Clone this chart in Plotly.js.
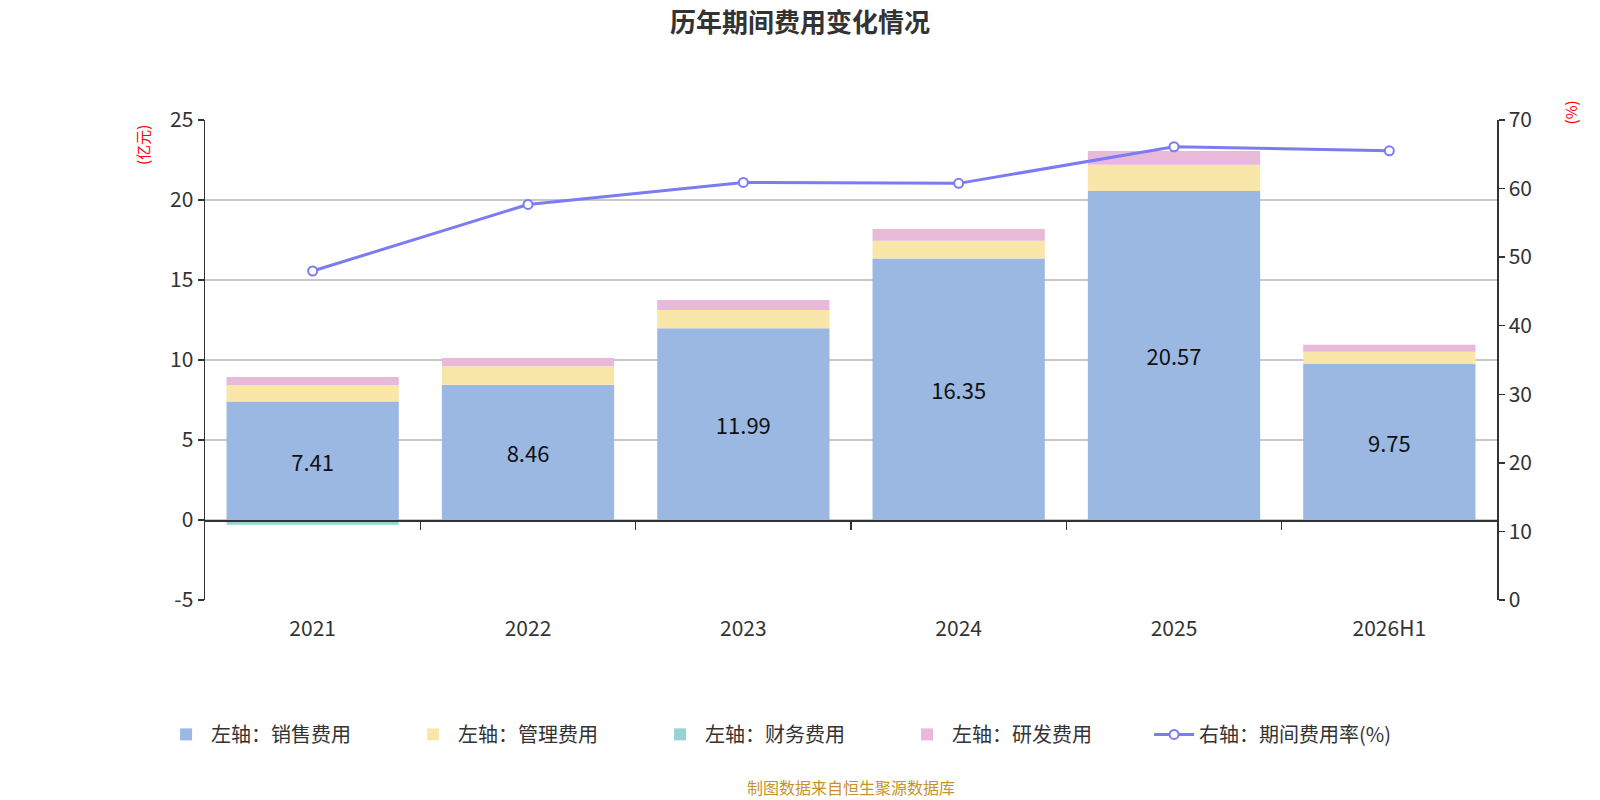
<!DOCTYPE html>
<html>
<head>
<meta charset="utf-8">
<script src="https://cdn.plot.ly/plotly-3.0.1.min.js"></script>
<style>html,body{margin:0;padding:0;background:#fff;}#chart{width:1600px;height:800px;}</style>
</head>
<body>
<div id="chart"></div>
<script>
var categories = ["2021", "2022", "2023", "2024", "2025", "2026H1"];
var salesExpense = [7.41, 8.46, 11.99, 16.35, 20.57, 9.75];
var adminExpense = [1.02, 1.15, 1.13, 1.10, 1.63, 0.77];
var financeExpense = [-0.30, -0.05, -0.06, -0.08, -0.12, -0.02];
var rdExpense = [0.50, 0.52, 0.63, 0.73, 0.86, 0.44];
var expenseRate = [47.98, 57.68, 60.90, 60.76, 66.10, 65.50];
var leftTicks = [-5, 0, 5, 10, 15, 20, 25];
var leftTickText = ["-5", "0", "5", "10", "15", "20", "25"];
var boundaryTicks = [0.5, 1.5, 2.5, 3.5, 4.5];

var font = "'Noto Sans CJK SC', 'Noto Sans', sans-serif";

var traces = [
  {type: 'bar', name: '左轴：销售费用', x: categories, y: salesExpense,
   marker: {color: '#9BB8E2'}, text: salesExpense.map(function(v){return v.toFixed(2);}),
   textposition: 'inside', insidetextanchor: 'middle', textangle: 0,
   textfont: {color: '#111', size: 22, family: font}, hoverinfo: 'y'},
  {type: 'bar', name: '左轴：管理费用', x: categories, y: adminExpense,
   marker: {color: '#F9E7A9'}, hoverinfo: 'y'},
  {type: 'bar', name: '左轴：财务费用', x: categories, y: financeExpense,
   marker: {color: '#97D3D3'}, hoverinfo: 'y'},
  {type: 'bar', name: '左轴：研发费用', x: categories, y: rdExpense,
   marker: {color: '#E8B9D8'}, hoverinfo: 'y'},
  {type: 'scatter', mode: 'lines+markers', name: '右轴：期间费用率(%)', x: categories, y: expenseRate,
   yaxis: 'y2', line: {color: '#7B7BF2', width: 3},
   marker: {symbol: 'circle', size: 9, color: '#ffffff', line: {color: '#7B7BF2', width: 2}}},
  {type: 'scatter', mode: 'lines', x: [0, 5], y: [0, 0], xaxis: 'x2', yaxis: 'y',
   showlegend: false, hoverinfo: 'skip', line: {color: 'rgba(0,0,0,0)', width: 0}}
];

var layout = {
  width: 1600, height: 800,
  paper_bgcolor: '#fff', plot_bgcolor: '#fff',
  margin: {l: 205, r: 103, t: 120, b: 200},
  font: {family: font, color: '#333'},
  barmode: 'relative', bargap: 0.2,
  title: {text: '<b>历年期间费用变化情况</b>', x: 0.5, xanchor: 'center', y: 0.972, yanchor: 'middle',
          font: {size: 26, color: '#333', family: font}},
  xaxis: {type: 'category', showline: false, ticks: '', showgrid: false, zeroline: false,
          tickfont: {size: 21, color: '#333'}, ticklabelstandoff: 14},
  xaxis2: {type: 'linear', overlaying: 'x', anchor: 'free', position: 1/6, range: [-0.5, 5.5],
           showline: true, linecolor: '#333', linewidth: 1.5, ticks: 'outside', ticklen: 8,
           tickcolor: '#333', tickwidth: 1.5, tickvals: boundaryTicks, showticklabels: false,
           showgrid: false, zeroline: false},
  yaxis: {range: [-5, 25], tickvals: leftTicks, ticktext: leftTickText, showline: true,
          linecolor: '#333', linewidth: 1.5,
          ticks: 'outside', ticklen: 6, tickcolor: '#333', tickwidth: 1.5,
          gridcolor: '#c8c8c8', gridwidth: 1.2, zeroline: false,
          tickfont: {size: 21, color: '#333'}},
  yaxis2: {overlaying: 'y', side: 'right', range: [0, 70], dtick: 10, showline: true,
           linecolor: '#333', linewidth: 1.5, ticks: 'outside', ticklen: 6, tickcolor: '#333',
           tickwidth: 1.5, showgrid: false, zeroline: false,
           tickfont: {size: 21, color: '#333'}},
  legend: {orientation: 'h', x: -0.034, xanchor: 'left', y: -0.28, yanchor: 'middle',
           font: {size: 20, color: '#333'}, traceorder: 'normal', entrywidth: 192,
           entrywidthmode: 'pixels', itemwidth: 40},
  showlegend: true,
  annotations: [
    {text: '(亿元)', xref: 'paper', yref: 'paper', x: -0.048, xanchor: 'center', y: 0.948,
     yanchor: 'middle', textangle: -90, showarrow: false, font: {size: 15, color: '#ff0000'}},
    {text: '(%)', xref: 'paper', yref: 'paper', x: 1.057, xanchor: 'center', y: 1.015,
     yanchor: 'middle', textangle: -90, showarrow: false, font: {size: 15, color: '#ff0000'}},
    {text: '制图数据来自恒生聚源数据库', xref: 'paper', yref: 'paper', x: 0.5, xanchor: 'center',
     y: -0.39, yanchor: 'middle', showarrow: false, font: {size: 16, color: '#C8922A'}}
  ]
};

Plotly.newPlot('chart', traces, layout, {displayModeBar: false, staticPlot: true});
</script>
</body>
</html>
